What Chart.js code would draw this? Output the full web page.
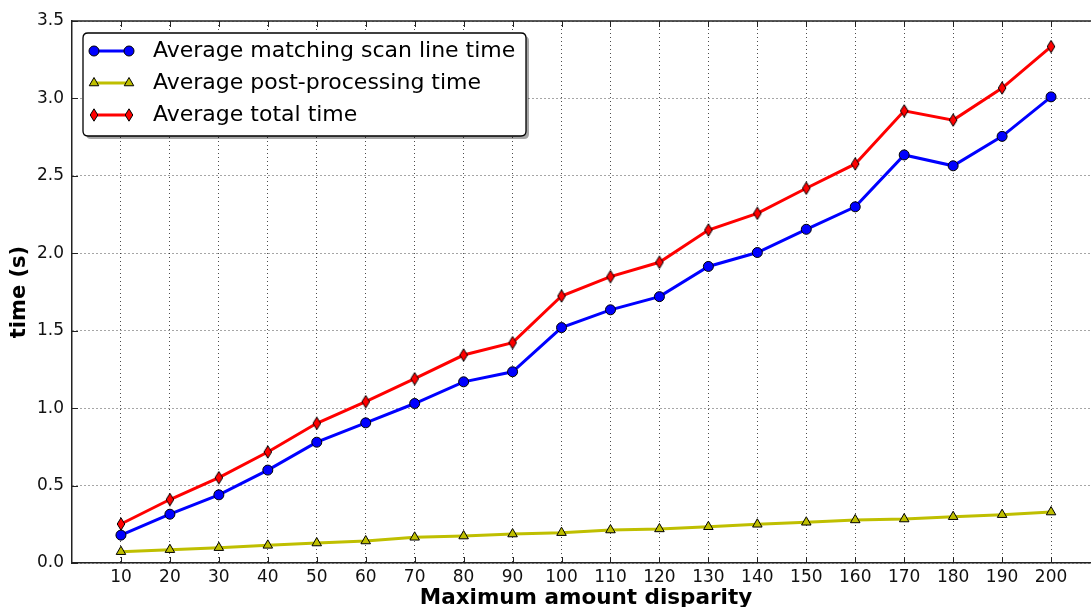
<!DOCTYPE html>
<html>
<head>
<meta charset="utf-8">
<title>time vs maximum disparity</title>
<script src="https://cdn.jsdelivr.net/npm/chart.js@4.4.0/dist/chart.umd.min.js"></script>
<style>
  html, body { margin: 0; padding: 0; background: #fff; overflow: hidden; }
  #wrap { width: 1110px; height: 607px; }
</style>
</head>
<body>
<div id="wrap"><canvas id="chart"></canvas></div>
<script>
/* data */
const disparity = [10, 20, 30, 40, 50, 60, 70, 80, 90, 100, 110, 120, 130, 140, 150, 160, 170, 180, 190, 200];
const matchingTime = [0.18, 0.315, 0.44, 0.60, 0.78, 0.905, 1.03, 1.17, 1.235, 1.52, 1.635, 1.72, 1.915, 2.005, 2.155, 2.30, 2.635, 2.565, 2.755, 3.01];
const postTime = [0.073, 0.086, 0.099, 0.114, 0.129, 0.142, 0.166, 0.174, 0.187, 0.196, 0.213, 0.22, 0.234, 0.25, 0.263, 0.278, 0.284, 0.299, 0.312, 0.329];
const totalTime = [0.252, 0.41, 0.551, 0.717, 0.902, 1.042, 1.19, 1.343, 1.423, 1.724, 1.849, 1.942, 2.15, 2.258, 2.42, 2.577, 2.92, 2.86, 3.067, 3.335];
const xTicks = [10, 20, 30, 40, 50, 60, 70, 80, 90, 100, 110, 120, 130, 140, 150, 160, 170, 180, 190, 200];
const yTicks = [0, 0.5, 1.0, 1.5, 2.0, 2.5, 3.0, 3.5];
const seriesNames = ["Average matching scan line time", "Average post-processing time", "Average total time"];

Chart.defaults.font.family = "'DejaVu Sans', sans-serif";
Chart.defaults.color = "#000";

// thin diamond marker (matplotlib 'd')
function makeDiamond(fill) {
  const c = document.createElement("canvas");
  c.width = 10; c.height = 14;
  const g = c.getContext("2d");
  g.beginPath();
  g.moveTo(5, 0.8); g.lineTo(8.8, 7); g.lineTo(5, 13.2); g.lineTo(1.2, 7);
  g.closePath();
  g.fillStyle = fill; g.fill();
  g.lineWidth = 1; g.strokeStyle = "#000"; g.stroke();
  return c;
}
const diamond = makeDiamond("#ff0000");

function pts(ys) {
  return disparity.map((x, i) => ({ x: x, y: ys[i] }));
}

function drawMarker(ctx, ds, x, y) {
  const st = ds.pointStyle;
  if (st instanceof HTMLCanvasElement) {
    ctx.drawImage(st, x - st.width / 2, y - st.height / 2);
    return;
  }
  const r = ds.pointRadius;
  ctx.beginPath();
  if (st == "triangle") {
    let a = 0;
    ctx.moveTo(x + Math.sin(a) * r, y - Math.cos(a) * r);
    a += 2 * Math.PI / 3;
    ctx.lineTo(x + Math.sin(a) * r, y - Math.cos(a) * r);
    a += 2 * Math.PI / 3;
    ctx.lineTo(x + Math.sin(a) * r, y - Math.cos(a) * r);
    ctx.closePath();
  } else {
    ctx.arc(x, y, r, 0, Math.PI * 2);
  }
  ctx.fillStyle = ds.pointBackgroundColor;
  ctx.fill();
  ctx.lineWidth = 1;
  ctx.strokeStyle = "#000";
  ctx.stroke();
}

function roundRect(ctx, x, y, w, h, r) {
  ctx.beginPath();
  ctx.moveTo(x + r, y);
  ctx.lineTo(x + w - r, y); ctx.quadraticCurveTo(x + w, y, x + w, y + r);
  ctx.lineTo(x + w, y + h - r); ctx.quadraticCurveTo(x + w, y + h, x + w - r, y + h);
  ctx.lineTo(x + r, y + h); ctx.quadraticCurveTo(x, y + h, x, y + h - r);
  ctx.lineTo(x, y + r); ctx.quadraticCurveTo(x, y, x + r, y);
  ctx.closePath();
}

const framePlugin = {
  id: "frame",
  afterDatasetsDraw(chart) {
    const ctx = chart.ctx;
    const a = chart.chartArea;
    const xs = chart.scales.x, ys = chart.scales.y;
    ctx.save();
    ctx.strokeStyle = "#222";
    ctx.lineWidth = 1.5;
    ctx.beginPath();
    ctx.moveTo(a.left, a.top); ctx.lineTo(a.right, a.top);
    ctx.stroke();
    // inward tick marks
    ctx.lineWidth = 1;
    ctx.beginPath();
    xTicks.forEach(v => {
      const px = Math.round(xs.getPixelForValue(v)) + 0.5;
      ctx.moveTo(px, a.bottom); ctx.lineTo(px, a.bottom - 6);
      ctx.moveTo(px, a.top); ctx.lineTo(px, a.top + 6);
    });
    yTicks.forEach(v => {
      const py = Math.round(ys.getPixelForValue(v)) + 0.5;
      ctx.moveTo(a.left, py); ctx.lineTo(a.left + 6, py);
    });
    ctx.stroke();
    ctx.restore();
  },
  afterDraw(chart) {
    // legend box in the upper left
    const ctx = chart.ctx;
    const a = chart.chartArea;
    const bx = a.left + 11, by = a.top + 12, bw = 443, bh = 103;
    ctx.save();
    ctx.fillStyle = "rgba(0,0,0,0.35)";
    roundRect(ctx, bx + 3, by + 3, bw, bh, 5);
    ctx.fill();
    roundRect(ctx, bx, by, bw, bh, 5);
    ctx.fillStyle = "#fff";
    ctx.fill();
    ctx.lineWidth = 1.3;
    ctx.strokeStyle = "#000";
    ctx.stroke();
    chart.data.datasets.forEach((ds, i) => {
      const y = by + 18 + i * 32;
      ctx.beginPath();
      ctx.moveTo(bx + 11, y); ctx.lineTo(bx + 46, y);
      ctx.lineWidth = 3;
      ctx.strokeStyle = ds.borderColor;
      ctx.stroke();
      drawMarker(ctx, ds, bx + 11, y);
      drawMarker(ctx, ds, bx + 46, y);
      ctx.fillStyle = "#000";
      ctx.font = "22px 'DejaVu Sans'";
      ctx.textBaseline = "middle";
      ctx.textAlign = "left";
      ctx.fillText(seriesNames[i], bx + 70, y);
    });
    ctx.restore();
  }
};

const data = {
  datasets: [
    {
      label: seriesNames[0],
      data: pts(matchingTime),
      borderColor: "#0000ff",
      backgroundColor: "#0000ff",
      pointBackgroundColor: "#0000ff",
      pointBorderColor: "#000",
      pointBorderWidth: 1,
      pointStyle: "circle",
      pointRadius: 5,
      borderWidth: 3,
      order: 3
    },
    {
      label: seriesNames[1],
      data: pts(postTime),
      borderColor: "#bfbf00",
      backgroundColor: "#bfbf00",
      pointBackgroundColor: "#bfbf00",
      pointBorderColor: "#000",
      pointBorderWidth: 1,
      pointStyle: "triangle",
      pointRadius: 5.5,
      borderWidth: 3,
      order: 2
    },
    {
      label: seriesNames[2],
      data: pts(totalTime),
      borderColor: "#ff0000",
      backgroundColor: "#ff0000",
      pointBackgroundColor: "#ff0000",
      pointBorderColor: "#000",
      pointBorderWidth: 1,
      pointStyle: diamond,
      pointRadius: 6,
      borderWidth: 3,
      order: 1
    }
  ]
};

const config = {
  type: "line",
  data: data,
  options: {
    responsive: true,
    maintainAspectRatio: false,
    animation: false,
    layout: { padding: { top: 21, right: 10, left: 0, bottom: 0 } },
    plugins: { legend: { display: false }, tooltip: { enabled: false } },
    scales: {
      x: {
        type: "linear",
        min: 0,
        max: 210,
        afterBuildTicks: s => { s.ticks = xTicks.map(v => ({ value: v })); },
        afterFit: s => { s.height = 44; },
        ticks: { font: { size: 17 }, padding: 4, color: "#111", maxRotation: 0, autoSkip: false },
        grid: { color: "rgba(0,0,0,0.7)", lineWidth: 1, drawTicks: false },
        border: { display: true, color: "#222", width: 1.5, dash: [1, 3] },
        title: { display: true, text: "Maximum amount disparity", font: { size: 21.5, weight: "bold", lineHeight: 1.2 }, padding: { top: 0, bottom: -4 } }
      },
      y: {
        min: 0,
        max: 3.5,
        afterBuildTicks: s => { s.ticks = yTicks.map(v => ({ value: v })); },
        afterFit: s => { s.width = 72; },
        ticks: { font: { size: 17 }, padding: 8, color: "#111", callback: v => Number(v).toFixed(1) },
        grid: { color: "rgba(0,0,0,0.7)", lineWidth: 1, drawTicks: false },
        border: { display: true, color: "#222", width: 1.5, dash: [1, 3] },
        title: { display: true, text: "time (s)", font: { size: 21, weight: "bold", lineHeight: 1.2 }, padding: { top: 7, bottom: 0 } }
      }
    }
  },
  plugins: [framePlugin]
};

let myChart = new Chart(document.getElementById("chart"), config);
</script>
</body>
</html>
